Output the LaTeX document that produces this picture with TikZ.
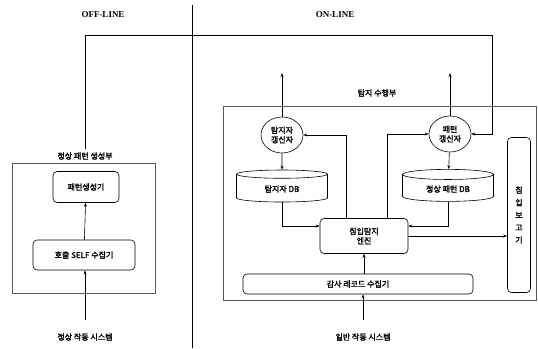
\documentclass[tikz,border=0pt]{standalone}
\usepackage{fontspec}
\setmainfont{Liberation Serif}
\newfontfamily\kr{Noto Sans CJK KR}[FakeBold=2]
\usetikzlibrary{shapes.geometric,arrows.meta}

\tikzset{
    box/.style={draw, rounded corners=4pt, inner sep=2pt, font=\kr\fontsize{8}{9.5}\selectfont},
    updater/.style={draw, ellipse, inner sep=0pt, minimum width=42pt, minimum height=36pt, align=center,
                    font=\kr\fontsize{8}{9.5}\selectfont},
    dbase/.style={draw, cylinder, shape border rotate=90, aspect=0.2, minimum width=91pt, minimum height=32pt,
                  font=\kr\fontsize{8}{9.5}\selectfont},
    krtext/.style={font=\kr\fontsize{8}{9.5}\selectfont},
    part/.style={draw, gray!70!black, line width=0.5pt},
    >={Stealth[length=4pt,width=3pt]}
}

\begin{document}
\begin{tikzpicture}[x=1pt, y=-1pt, line width=0.6pt]
    \useasboundingbox (0,0) rectangle (538,348);

    % OFF-LINE / ON-LINE
    \draw[line width=1pt] (192,5) -- (192,348);
    \node[font=\bfseries\fontsize{9}{10}\selectfont] (offline) at (103,15) {OFF-LINE};
    \node[font=\bfseries\fontsize{9}{10}\selectfont] (online) at (335,15) {ON-LINE};

    % Normal pattern generator (off-line)
    \draw[part] (12,163) rectangle (155,293);
    \node[krtext] (genlabel) at (85,156) {정상 패턴 생성부};
    \node[box, minimum width=66pt, minimum height=31pt] (patgen) at (86,187) {패턴생성기};
    \node[box, minimum width=102pt, minimum height=30pt] (selfcol) at (84,255) {호출 SELF 수집기};
    \node[krtext] (normsys) at (85,337) {정상 작동 시스템};

    \draw[->] (selfcol) -- (patgen);
    \draw[->, shorten <=10pt] (normsys.north) -- (normsys.north |- selfcol.south);

    % Detection part (on-line)
    \draw[part] (223,106) rectangle (536,300);
    \node[krtext] (detlabel) at (377,93) {탐지 수행부};

    \node[updater] (detupd) at (282,135) {탐지자\\갱신자};
    \node[updater] (patupd) at (450,134) {패턴\\갱신자};
    \node[dbase] (detdb) at (282,189) {탐지자 DB};
    \node[dbase] (patdb) at (448,189) {정상 패턴 DB};
    \node[box, minimum width=88pt, minimum height=35pt, align=center] (engine) at (364,236) {침입탐지\\엔진};
    \node[box, minimum width=230pt, minimum height=20pt] (collector) at (358,284) {감사 레코드 수집기};
    \node[box, minimum width=23pt, minimum height=155pt, align=center, font=\kr\fontsize{8}{12.5}\selectfont]
        (reporter) at (519,215) {침\\입\\보\\고\\기};
    \node[krtext] (gensys) at (363,337) {일반 작동 시스템};

    \coordinate (detout) at (282,73);
    \coordinate (patout) at (450,73);
    \coordinate (turn) at (492,35);

    \draw[->] (detupd.north) -- (detout);
    \draw[->] (patupd.north) -- (patout);
    \draw[->] (detupd) -- (detdb);
    \draw[->] (patupd) -- (patdb);
    \draw[->] (detdb.south) |- ([yshift=10pt]engine.west);
    \draw[->] (patdb.south) |- ([yshift=10pt]engine.east);
    \draw[->] ([xshift=-18pt]engine.north) |- (detupd.east);
    \draw[->] ([xshift=23pt]engine.north) |- (patupd.west);
    \draw[->] (engine.east) -- (engine.east -| reporter.west);
    \draw[->] (engine.south |- collector.north) -- (engine.south);
    \draw[->, shorten <=10pt] (gensys.north) -- (gensys.north |- collector.south);

    % feedback from off-line to on-line
    \draw[->] (genlabel.north) |- (turn) |- (patupd.east);
\end{tikzpicture}
\end{document}
